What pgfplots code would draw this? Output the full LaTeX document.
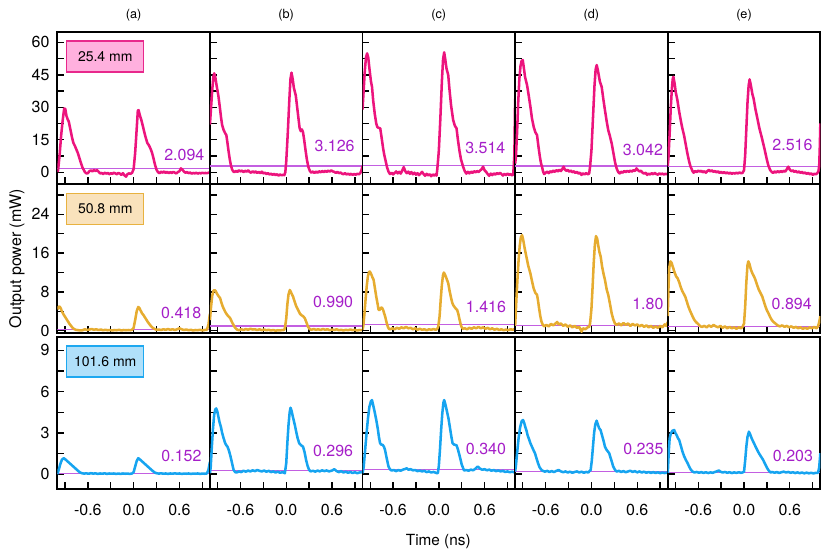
\documentclass[border=0pt]{standalone}
\usepackage{pgfplots}
\pgfplotsset{compat=1.18}
\usepackage{fontspec}
\setmainfont{TeX Gyre Heros}
\definecolor{cpink}{RGB}{236,20,125}
\definecolor{cgold}{RGB}{230,172,48}
\definecolor{cblue}{RGB}{22,164,240}
\definecolor{cpurp}{RGB}{165,30,200}
\definecolor{cline}{RGB}{195,95,225}
\definecolor{fpink}{RGB}{255,176,222}
\definecolor{bpink}{RGB}{232,40,140}
\definecolor{fgold}{RGB}{249,226,188}
\definecolor{bgold}{RGB}{232,178,64}
\definecolor{fblue}{RGB}{176,224,250}
\definecolor{bblue}{RGB}{30,168,240}
\pgfplotsset{
 panel/.style={
   scale only axis, width=114.45pt, xmin=-1, xmax=1, anchor=north west,
   axis line style={line width=1.3pt},
   tick align=inside, tick pos=left,
   xtick={-0.6,0,0.6}, minor xtick={-0.9,-0.3,0.3,0.9},
   major tick length=5.2pt, minor tick length=5.2pt,
   tick style={line width=1pt, black},
   xticklabels={}, yticklabels={},
   ticklabel style={font=\fontsize{12}{14}\selectfont},
   /pgf/number format/assume math mode=true,
   xticklabel style={yshift=-7.5pt},
   yticklabel style={xshift=-2.4pt},
 },
 r1/.style={panel, height=114.2pt, ymin=-5.4, ymax=64.9, ytick={0,15,30,45,60}, minor ytick={7.5,22.5,37.5,52.5}},
 r2/.style={panel, height=111.5pt, ymin=-0.4, ymax=30.25, ytick={0,8,16,24}, minor ytick={4,12,20,28}},
 r3/.style={panel, height=114.45pt, ymin=-1.1, ymax=10, ytick={0,3,6,9}, minor ytick={1.5,4.5,7.5}},
 curve/.style={line width=1.9pt, line join=round, no marks},
 hline/.style={cline, line width=0.8pt, no marks},
}
\tikzset{
 anno/.style={text=cpurp, inner sep=0pt, anchor=east, font=\fontsize{12}{14}\selectfont},
 lbl/.style n args={2}{draw=#1, fill=#2, line width=1.1pt, minimum width=57.75pt, minimum height=23.25pt, inner sep=0pt, anchor=north west, font=\fontsize{10.5}{12}\selectfont, xshift=6.5pt, yshift=-6.4pt},
}
\begin{document}
\begin{tikzpicture}
% ---------------- Row 1 ----------------
\begin{axis}[r1, at={(43pt,-23.8pt)}, yticklabels={0,15,30,45,60}]
\addplot[hline] coordinates {(-1,1.9) (1,1.9)};
\addplot[cpink, curve] coordinates {(-1.00,0.2) (-0.99,1) (-0.97,8) (-0.95,17) (-0.93,24) (-0.91,29.5) (-0.895,29.2) (-0.88,26) (-0.865,24.5) (-0.85,23.4) (-0.83,20) (-0.81,16.5) (-0.79,13.6) (-0.77,12.2) (-0.75,10.5) (-0.73,8.8) (-0.71,6.5) (-0.69,4.2) (-0.67,2.2) (-0.655,1.2) (-0.64,0.2) (-0.62,-0.5) (-0.60,-0.4) (-0.58,0.5) (-0.56,0.9) (-0.54,0.4) (-0.52,1.1) (-0.50,0.6) (-0.48,1.0) (-0.46,0.3) (-0.44,-0.5) (-0.42,-0.3) (-0.40,-0.8) (-0.38,-0.2) (-0.36,-0.6) (-0.34,-0.3) (-0.32,-0.9) (-0.30,-0.4) (-0.28,-0.7) (-0.26,-0.2) (-0.24,-0.5) (-0.22,-0.9) (-0.20,-0.3) (-0.18,-0.6) (-0.16,-1.2) (-0.14,-0.4) (-0.12,-1.4) (-0.10,-2.0) (-0.08,-0.8) (-0.06,-0.5) (-0.04,-0.7) (-0.02,-0.2) (0.00,1.5) (0.02,9) (0.04,20) (0.055,28.5) (0.065,28.7) (0.08,26.5) (0.10,24.3) (0.12,21.5) (0.14,18.5) (0.16,15.8) (0.18,13.5) (0.20,12.5) (0.22,11) (0.24,9.2) (0.26,6.5) (0.28,3.5) (0.30,1.2) (0.32,0.0) (0.34,-0.4) (0.36,0.3) (0.38,-0.2) (0.40,0.4) (0.42,-0.3) (0.44,0.2) (0.46,-0.4) (0.48,0.1) (0.50,-0.3) (0.52,0.2) (0.54,-0.2) (0.56,-0.5) (0.58,0.1) (0.60,0.5) (0.62,1.8) (0.64,1.2) (0.66,0.3) (0.68,-0.2) (0.70,0.1) (0.72,-0.4) (0.74,-0.1) (0.76,-0.6) (0.78,-0.3) (0.80,-0.5) (0.82,-0.2) (0.84,-0.6) (0.86,-0.3) (0.88,-0.5) (0.90,-0.2) (0.92,-0.4) (0.94,-0.3) (0.96,-0.4) (0.98,-0.2) (1.00,-0.1)};
\node[anno] at (axis cs:0.93,8.0) {2.094};
\node[lbl={bpink}{fpink}] at (rel axis cs:0,1) {25.4 mm};
\end{axis}
\begin{axis}[r1, at={(157.45pt,-23.8pt)}]
\addplot[hline] coordinates {(-1,2.9) (1,2.9)};
\addplot[cpink, curve] coordinates {(-1.00,22) (-0.985,30) (-0.97,38) (-0.955,44) (-0.944,45.7) (-0.93,44) (-0.91,39.5) (-0.89,35.5) (-0.87,30) (-0.855,25.5) (-0.84,21.8) (-0.82,19.5) (-0.80,18) (-0.785,17.2) (-0.77,13.5) (-0.755,9.5) (-0.74,6) (-0.725,3.2) (-0.71,1.4) (-0.695,0.4) (-0.68,0.1) (-0.66,0.6) (-0.64,0.2) (-0.62,0.9) (-0.60,0.4) (-0.58,0.8) (-0.56,0.1) (-0.54,0.7) (-0.52,0.3) (-0.50,0.9) (-0.48,0.2) (-0.46,-0.2) (-0.44,0.5) (-0.42,-0.1) (-0.40,0.4) (-0.38,-0.3) (-0.36,0.2) (-0.34,-0.4) (-0.32,0.3) (-0.30,-0.5) (-0.28,-0.2) (-0.26,-0.8) (-0.24,-0.4) (-0.22,-1.0) (-0.20,-0.6) (-0.18,-1.2) (-0.16,-0.7) (-0.14,-1.3) (-0.12,-0.9) (-0.10,-1.5) (-0.08,-1.0) (-0.06,-1.4) (-0.04,-1.1) (-0.025,-1.3) (-0.012,0) (0.00,5) (0.02,18) (0.04,33) (0.055,43) (0.069,46) (0.085,43) (0.10,39) (0.125,35.5) (0.15,28) (0.175,20.5) (0.19,19) (0.205,19.8) (0.22,18.5) (0.235,15) (0.25,11) (0.27,6) (0.29,2.5) (0.31,0.6) (0.33,-0.2) (0.35,0.4) (0.37,-0.3) (0.39,0.3) (0.41,-0.2) (0.43,0.5) (0.45,0.0) (0.47,0.6) (0.49,0.1) (0.51,0.7) (0.53,0.2) (0.55,0.8) (0.57,0.3) (0.59,0.9) (0.61,0.4) (0.63,0.2) (0.65,-0.3) (0.67,0.2) (0.69,-0.4) (0.71,-0.1) (0.73,-0.6) (0.75,-0.9) (0.77,-0.4) (0.79,-1.0) (0.81,-0.6) (0.83,-1.1) (0.85,-0.7) (0.87,-1.2) (0.89,-0.8) (0.91,-1.1) (0.93,-0.7) (0.95,-0.9) (0.97,-0.4) (0.985,0.8) (1.00,3)};
\node[anno] at (axis cs:0.90,12.0) {3.126};
\end{axis}
\begin{axis}[r1, at={(271.9pt,-23.8pt)}]
\addplot[hline] coordinates {(-1,3.05) (1,3.05)};
\addplot[cpink, curve] coordinates {(-1.00,29) (-0.985,38) (-0.97,47) (-0.955,53) (-0.94,54.9) (-0.925,53) (-0.91,48) (-0.89,42) (-0.876,39.5) (-0.86,33) (-0.84,27) (-0.82,22.5) (-0.805,20.8) (-0.785,20.5) (-0.768,20.3) (-0.75,16) (-0.73,11) (-0.715,8) (-0.70,5.7) (-0.68,2.5) (-0.66,0.3) (-0.64,-0.8) (-0.62,-0.2) (-0.60,-1.0) (-0.58,-0.3) (-0.56,0.4) (-0.54,-0.5) (-0.52,0.2) (-0.50,-0.6) (-0.48,0.8) (-0.46,2.4) (-0.44,0.5) (-0.42,-0.4) (-0.40,0.3) (-0.38,-0.7) (-0.36,0.1) (-0.34,-0.9) (-0.32,-0.2) (-0.30,-1.1) (-0.28,-0.4) (-0.26,-1.3) (-0.24,-0.6) (-0.22,0.2) (-0.20,-0.8) (-0.18,-1.6) (-0.16,-0.7) (-0.14,-1.4) (-0.12,-0.9) (-0.10,-1.8) (-0.08,-1.0) (-0.06,-1.5) (-0.04,-0.9) (-0.03,-1.5) (-0.02,1.5) (0.00,10) (0.02,25) (0.04,42) (0.055,52) (0.07,55.4) (0.085,52) (0.10,48) (0.123,44.9) (0.14,38) (0.16,31) (0.188,24.1) (0.21,21.5) (0.232,20.3) (0.25,15) (0.27,10) (0.29,6) (0.318,2.6) (0.34,0.5) (0.36,-0.6) (0.38,0.2) (0.40,-0.5) (0.42,0.3) (0.44,-0.3) (0.46,0.5) (0.48,0.0) (0.50,0.6) (0.52,0.1) (0.54,0.8) (0.56,1.4) (0.58,2.6) (0.60,0.9) (0.62,0.2) (0.64,-0.8) (0.66,-1.6) (0.68,-0.6) (0.70,-1.3) (0.72,-0.5) (0.74,-1.1) (0.76,-0.3) (0.78,-0.9) (0.80,-0.2) (0.82,-0.8) (0.84,-1.5) (0.86,-0.7) (0.88,-1.3) (0.90,-0.6) (0.92,-1.2) (0.94,-0.8) (0.96,-1.4) (0.975,-1.0) (0.99,8) (1.00,34)};
\node[anno] at (axis cs:0.875,11.1) {3.514};
\end{axis}
\begin{axis}[r1, at={(386.35pt,-23.8pt)}]
\addplot[hline] coordinates {(-1,2.9) (1,2.9)};
\addplot[cpink, curve] coordinates {(-1.00,4) (-0.99,7) (-0.975,18) (-0.96,32) (-0.945,43) (-0.93,49) (-0.915,51.5) (-0.90,51.8) (-0.885,48) (-0.87,44) (-0.844,40.3) (-0.82,35) (-0.80,30.3) (-0.78,25) (-0.757,21) (-0.735,18.5) (-0.713,17.2) (-0.695,12) (-0.675,7) (-0.66,4) (-0.648,2.6) (-0.635,0.5) (-0.62,-0.8) (-0.60,-0.2) (-0.58,0.3) (-0.56,-0.4) (-0.54,0.5) (-0.52,0.0) (-0.50,0.8) (-0.48,0.2) (-0.46,1.0) (-0.44,0.4) (-0.42,1.2) (-0.40,0.6) (-0.38,1.6) (-0.365,2.6) (-0.35,1.4) (-0.33,0.7) (-0.31,1.1) (-0.29,0.3) (-0.27,0.8) (-0.25,0.0) (-0.23,0.5) (-0.21,-0.3) (-0.19,0.2) (-0.17,-0.6) (-0.15,-0.2) (-0.13,-1.2) (-0.11,-0.5) (-0.09,-1.0) (-0.07,-0.3) (-0.05,-0.9) (-0.03,-0.6) (-0.018,2.6) (0.00,10) (0.02,25) (0.04,40) (0.055,47.5) (0.069,49.5) (0.085,47) (0.11,42) (0.134,39.5) (0.155,34) (0.177,28.7) (0.20,23.5) (0.22,19.5) (0.24,17) (0.265,13.4) (0.29,8.5) (0.31,4.5) (0.33,1.8) (0.35,0.2) (0.37,-0.5) (0.39,0.3) (0.41,-0.2) (0.43,0.6) (0.45,0.1) (0.47,0.7) (0.49,0.2) (0.51,0.8) (0.53,0.3) (0.55,1.0) (0.57,0.6) (0.59,1.8) (0.61,1.0) (0.63,0.4) (0.65,0.7) (0.67,-0.2) (0.69,-0.6) (0.71,-0.2) (0.73,-1.2) (0.75,-0.6) (0.77,-1.0) (0.79,-0.4) (0.81,-0.9) (0.83,-0.3) (0.85,-0.8) (0.87,-1.1) (0.89,-0.5) (0.91,-0.9) (0.93,-0.6) (0.95,-1.0) (0.97,-0.7) (0.985,-0.9) (1.00,-0.6)};
\node[anno] at (axis cs:0.94,10.5) {3.042};
\end{axis}
\begin{axis}[r1, at={(500.8pt,-23.8pt)}]
\addplot[hline] coordinates {(-1,2.6) (1,2.6)};
\addplot[cpink, curve] coordinates {(-1.00,3) (-0.99,7) (-0.975,18) (-0.96,30) (-0.945,39) (-0.935,43) (-0.926,44.1) (-0.91,41) (-0.895,37) (-0.874,33.4) (-0.85,28) (-0.83,24.1) (-0.81,20.5) (-0.787,17.2) (-0.765,13) (-0.743,8.8) (-0.72,5) (-0.70,2.5) (-0.69,1.8) (-0.675,0.5) (-0.66,-0.2) (-0.64,0.6) (-0.62,0.1) (-0.60,0.8) (-0.58,0.3) (-0.56,0.7) (-0.54,0.0) (-0.52,0.5) (-0.50,-0.2) (-0.48,0.6) (-0.46,1.1) (-0.44,0.4) (-0.42,0.9) (-0.40,0.2) (-0.38,0.6) (-0.36,-0.1) (-0.34,0.5) (-0.32,-0.3) (-0.30,0.2) (-0.28,-0.4) (-0.26,0.1) (-0.24,-0.5) (-0.22,-0.1) (-0.20,-0.6) (-0.18,-0.2) (-0.16,-0.7) (-0.14,-0.3) (-0.12,-0.6) (-0.10,-0.2) (-0.08,-0.5) (-0.06,-0.1) (-0.04,-0.4) (-0.02,-0.3) (0.00,1) (0.015,8) (0.03,20) (0.045,32) (0.06,40) (0.073,42.9) (0.09,40) (0.11,36) (0.125,34.1) (0.15,29) (0.17,25.7) (0.20,20.5) (0.235,15.7) (0.27,10.5) (0.30,5.7) (0.32,3) (0.343,1) (0.36,0.3) (0.38,-0.3) (0.40,0.4) (0.42,-0.1) (0.44,0.5) (0.46,0.0) (0.48,0.6) (0.50,0.1) (0.52,0.7) (0.54,0.3) (0.56,1.4) (0.58,2.6) (0.60,1.2) (0.62,0.5) (0.64,0.9) (0.66,0.2) (0.68,0.6) (0.70,-0.1) (0.72,0.4) (0.74,-0.3) (0.76,0.2) (0.78,-0.5) (0.80,-0.1) (0.82,-0.7) (0.84,-0.3) (0.86,-0.9) (0.88,-0.5) (0.90,-1.2) (0.92,-0.7) (0.94,-0.9) (0.96,-0.4) (0.975,0.5) (0.985,3) (0.993,12) (1.00,22.6)};
\node[anno] at (axis cs:0.90,12.5) {2.516};
\end{axis}
% ---------------- Row 2 ----------------
\begin{axis}[r2, at={(43pt,-138pt)}, yticklabels={0,8,16,24}]
\addplot[hline] coordinates {(-1,0.3) (1,0.3)};
\addplot[cgold, curve] coordinates {(-1.00,4.4) (-0.985,4.9) (-0.97,5.0) (-0.955,4.6) (-0.94,4.0) (-0.92,3.4) (-0.90,2.9) (-0.88,2.4) (-0.86,1.9) (-0.84,1.4) (-0.82,1.0) (-0.80,0.6) (-0.78,0.35) (-0.76,0.2) (-0.74,0.15) (-0.72,0.1) (-0.70,0.05) (-0.67,0.1) (-0.64,0.3) (-0.61,0.15) (-0.58,0.25) (-0.55,0.35) (-0.52,0.2) (-0.49,0.3) (-0.46,0.15) (-0.43,0.25) (-0.40,0.1) (-0.37,0.2) (-0.34,0.1) (-0.31,0.15) (-0.28,0.05) (-0.25,0.15) (-0.22,0.1) (-0.19,0.2) (-0.16,0.05) (-0.13,0.15) (-0.10,0.1) (-0.07,0.15) (-0.04,0.1) (-0.02,0.2) (0.00,0.6) (0.02,2.2) (0.04,4.0) (0.06,4.9) (0.075,4.7) (0.09,4.2) (0.11,3.6) (0.13,3.2) (0.15,2.7) (0.17,2.2) (0.19,1.7) (0.21,1.3) (0.23,0.9) (0.25,0.6) (0.27,0.4) (0.30,0.2) (0.33,0.25) (0.36,0.15) (0.39,0.3) (0.42,0.2) (0.45,0.35) (0.48,0.2) (0.51,0.3) (0.54,0.15) (0.57,0.3) (0.60,0.5) (0.63,0.3) (0.66,0.15) (0.69,0.25) (0.72,0.1) (0.75,0.2) (0.78,0.05) (0.81,0.15) (0.84,0.1) (0.87,0.2) (0.90,0.05) (0.93,0.15) (0.96,0.2) (0.98,1.2) (1.00,3.5)};
\node[anno] at (axis cs:0.89,3.75) {0.418};
\node[lbl={bgold}{fgold}] at (rel axis cs:0,1) {50.8 mm};
\end{axis}
\begin{axis}[r2, at={(157.45pt,-138pt)}]
\addplot[hline] coordinates {(-1,0.97) (1,0.97)};
\addplot[cgold, curve] coordinates {(-1.00,2.2) (-0.985,5) (-0.97,7.2) (-0.955,8.2) (-0.94,8.4) (-0.925,8.2) (-0.91,7.7) (-0.89,7.2) (-0.866,6.7) (-0.85,5.8) (-0.83,4.9) (-0.80,3.9) (-0.78,3.4) (-0.76,3.0) (-0.735,2.6) (-0.715,1.9) (-0.692,1.2) (-0.67,0.6) (-0.645,0.25) (-0.62,0.1) (-0.59,0.3) (-0.56,0.15) (-0.53,0.35) (-0.50,0.2) (-0.47,0.4) (-0.44,0.25) (-0.41,0.3) (-0.38,0.15) (-0.35,0.3) (-0.32,0.1) (-0.29,0.25) (-0.26,0.1) (-0.23,0.2) (-0.20,0.05) (-0.17,0.15) (-0.14,0.0) (-0.11,0.1) (-0.08,0.05) (-0.05,0.15) (-0.03,0.1) (-0.018,0.5) (0.00,2.5) (0.015,5.5) (0.03,7.5) (0.047,8.4) (0.06,8.0) (0.075,7.5) (0.09,7.0) (0.11,6.0) (0.13,5.1) (0.155,4.3) (0.18,3.5) (0.20,3.2) (0.22,3.0) (0.243,2.6) (0.265,1.7) (0.286,0.8) (0.31,0.3) (0.33,0.2) (0.36,0.35) (0.39,0.2) (0.42,0.3) (0.45,0.15) (0.48,0.35) (0.51,0.2) (0.54,0.3) (0.57,0.1) (0.60,0.25) (0.63,0.15) (0.66,0.3) (0.69,0.1) (0.72,0.2) (0.75,0.05) (0.78,0.2) (0.81,0.1) (0.84,0.25) (0.87,0.1) (0.90,0.2) (0.93,0.05) (0.96,0.15) (1.00,0.1)};
\node[anno] at (axis cs:0.88,5.9) {0.990};
\end{axis}
\begin{axis}[r2, at={(271.9pt,-138pt)}]
\addplot[hline] coordinates {(-1,1.3) (1,1.3)};
\addplot[cgold, curve] coordinates {(-1.00,0.2) (-0.99,1.0) (-0.975,3.5) (-0.96,6.5) (-0.945,9.2) (-0.93,11.2) (-0.915,12.1) (-0.905,12.2) (-0.89,11.8) (-0.87,11.0) (-0.855,10.5) (-0.84,9.0) (-0.82,7.0) (-0.80,5.3) (-0.79,4.3) (-0.775,4.3) (-0.76,4.7) (-0.746,4.8) (-0.73,4.3) (-0.715,3.5) (-0.703,2.9) (-0.685,1.7) (-0.67,0.9) (-0.655,0.4) (-0.64,0.3) (-0.61,0.5) (-0.58,0.3) (-0.55,0.6) (-0.52,0.4) (-0.49,0.7) (-0.46,0.5) (-0.43,0.8) (-0.40,0.5) (-0.37,0.6) (-0.34,0.3) (-0.31,0.5) (-0.28,0.2) (-0.25,0.4) (-0.22,0.2) (-0.19,0.3) (-0.16,0.1) (-0.13,0.3) (-0.10,0.2) (-0.07,0.35) (-0.04,0.2) (-0.02,0.4) (-0.008,0.8) (0.01,3) (0.025,6.5) (0.04,9.5) (0.055,11.5) (0.066,12.0) (0.08,11.6) (0.10,10.8) (0.123,9.8) (0.14,8.3) (0.16,6.8) (0.175,5.8) (0.188,5.3) (0.21,4.8) (0.225,4.5) (0.24,4.3) (0.255,3.5) (0.27,2.4) (0.285,1.4) (0.297,0.8) (0.315,0.4) (0.34,0.5) (0.37,0.3) (0.40,0.6) (0.43,0.4) (0.46,0.7) (0.49,0.5) (0.52,0.8) (0.55,0.5) (0.58,0.7) (0.61,0.4) (0.64,0.6) (0.67,0.3) (0.70,0.5) (0.73,0.2) (0.76,0.4) (0.79,0.15) (0.82,0.3) (0.85,0.1) (0.88,0.25) (0.91,0.1) (0.94,0.3) (0.97,0.2) (1.00,0.4)};
\node[anno] at (axis cs:0.884,4.95) {1.416};
\end{axis}
\begin{axis}[r2, at={(386.35pt,-138pt)}]
\addplot[hline] coordinates {(-1,1.1) (1,1.1)};
\addplot[cgold, curve] coordinates {(-1.00,1.0) (-0.995,2.6) (-0.985,6) (-0.97,10.5) (-0.955,14.5) (-0.94,17.5) (-0.925,19.3) (-0.909,19.7) (-0.895,18.8) (-0.875,17) (-0.853,15.3) (-0.83,13.5) (-0.80,11.8) (-0.78,10.3) (-0.757,8.7) (-0.735,7.8) (-0.713,7.4) (-0.70,6.2) (-0.685,4.5) (-0.67,3.0) (-0.655,1.9) (-0.64,1.3) (-0.62,0.9) (-0.59,1.2) (-0.56,0.9) (-0.53,1.4) (-0.50,1.1) (-0.47,1.5) (-0.45,1.8) (-0.43,1.3) (-0.40,1.5) (-0.37,1.0) (-0.34,1.3) (-0.31,0.8) (-0.28,1.1) (-0.25,0.7) (-0.22,1.0) (-0.19,0.6) (-0.16,0.8) (-0.13,-0.2) (-0.11,0.5) (-0.08,0.3) (-0.05,0.7) (-0.03,0.8) (-0.018,1.5) (0.00,4.5) (0.015,9) (0.03,14) (0.045,17.8) (0.06,19.5) (0.075,19.0) (0.09,17.5) (0.105,16.2) (0.121,15.3) (0.14,13.2) (0.16,11.6) (0.177,10.5) (0.20,8.5) (0.22,7.4) (0.24,5.8) (0.265,3.6) (0.285,2.4) (0.308,1.5) (0.33,1.2) (0.36,1.5) (0.39,1.1) (0.42,1.6) (0.45,1.2) (0.48,1.5) (0.51,1.0) (0.54,1.4) (0.57,1.1) (0.60,1.3) (0.63,0.9) (0.66,1.2) (0.69,0.8) (0.72,1.1) (0.75,0.7) (0.78,1.0) (0.81,0.6) (0.84,0.9) (0.87,0.6) (0.90,1.0) (0.93,0.7) (0.96,1.3) (0.98,1.0) (1.00,1.8)};
\node[anno] at (axis cs:0.947,5.5) {1.80};
\end{axis}
\begin{axis}[r2, at={(500.8pt,-138pt)}]
\addplot[hline] coordinates {(-1,0.85) (1,0.85)};
\addplot[cgold, curve] coordinates {(-1.00,3) (-0.99,9) (-0.98,13) (-0.965,14.3) (-0.95,14.0) (-0.93,13.0) (-0.91,12.0) (-0.89,11.2) (-0.87,10.8) (-0.85,10.0) (-0.83,9.0) (-0.81,8.2) (-0.79,7.6) (-0.77,7.0) (-0.75,6.0) (-0.73,5.0) (-0.71,4.2) (-0.69,3.5) (-0.67,2.8) (-0.65,2.2) (-0.63,1.8) (-0.61,1.5) (-0.59,1.2) (-0.57,0.9) (-0.55,0.8) (-0.52,1.0) (-0.49,0.7) (-0.46,1.1) (-0.43,0.8) (-0.40,1.2) (-0.37,0.9) (-0.34,0.7) (-0.31,1.0) (-0.28,0.6) (-0.25,0.9) (-0.22,0.5) (-0.19,0.8) (-0.16,0.5) (-0.13,0.7) (-0.10,0.4) (-0.07,0.7) (-0.04,0.5) (-0.02,0.8) (0.00,1.5) (0.015,5) (0.03,10) (0.045,13.5) (0.056,14.3) (0.07,13.8) (0.09,12.6) (0.11,11.8) (0.13,11.2) (0.147,10.6) (0.17,9.5) (0.19,8.6) (0.215,7.8) (0.24,7.0) (0.26,6.0) (0.28,5.0) (0.30,4.2) (0.32,3.6) (0.34,2.9) (0.36,2.3) (0.38,1.9) (0.41,1.5) (0.44,1.1) (0.47,0.9) (0.50,1.1) (0.53,0.8) (0.56,1.0) (0.59,0.7) (0.62,0.9) (0.65,0.6) (0.68,0.8) (0.71,0.5) (0.74,0.7) (0.77,0.4) (0.80,0.6) (0.83,0.4) (0.86,0.7) (0.89,0.5) (0.92,0.8) (0.95,0.5) (0.97,0.9) (0.985,1.8) (1.00,3.0)};
\node[anno] at (axis cs:0.89,5.5) {0.894};
\end{axis}
% ---------------- Row 3 ----------------
\begin{axis}[r3, at={(43pt,-252.5pt)}, yticklabels={0,3,6,9}, xticklabels={-0.6,0.0,0.6}]
\addplot[hline] coordinates {(-1,0.07) (1,0.07)};
\addplot[cblue, curve] coordinates {(-1.00,0.0) (-0.98,0.35) (-0.96,0.75) (-0.94,1.05) (-0.917,1.16) (-0.90,1.1) (-0.88,1.0) (-0.86,0.9) (-0.84,0.8) (-0.82,0.7) (-0.80,0.6) (-0.78,0.5) (-0.76,0.4) (-0.74,0.3) (-0.72,0.2) (-0.70,0.12) (-0.68,0.07) (-0.65,0.04) (-0.62,0.06) (-0.59,0.03) (-0.56,0.07) (-0.53,0.04) (-0.50,0.06) (-0.47,0.02) (-0.44,0.05) (-0.41,0.03) (-0.38,0.06) (-0.35,0.02) (-0.32,0.05) (-0.29,0.03) (-0.26,0.05) (-0.23,0.02) (-0.20,0.04) (-0.17,0.02) (-0.14,0.05) (-0.11,0.03) (-0.08,0.04) (-0.05,0.02) (-0.02,0.05) (0.00,0.15) (0.02,0.55) (0.04,0.95) (0.06,1.16) (0.08,1.08) (0.10,0.98) (0.12,0.88) (0.14,0.78) (0.16,0.68) (0.18,0.58) (0.20,0.48) (0.22,0.38) (0.24,0.28) (0.26,0.19) (0.28,0.11) (0.30,0.07) (0.33,0.04) (0.36,0.06) (0.39,0.03) (0.42,0.05) (0.45,0.02) (0.48,0.05) (0.51,0.03) (0.54,0.06) (0.57,0.03) (0.60,0.05) (0.63,0.02) (0.66,0.04) (0.69,0.03) (0.72,0.05) (0.75,0.02) (0.78,0.04) (0.81,0.03) (0.84,0.05) (0.87,0.02) (0.90,0.04) (0.93,0.03) (0.96,0.05) (0.98,0.3) (1.00,0.9)};
\node[anno] at (axis cs:0.893,1.31) {0.152};
\node[lbl={bblue}{fblue}] at (rel axis cs:0,1) {101.6 mm};
\end{axis}
\begin{axis}[r3, at={(157.45pt,-252.5pt)}, xticklabels={-0.6,0.0,0.6}]
\addplot[hline] coordinates {(-1,0.24) (1,0.24)};
\addplot[cblue, curve] coordinates {(-1.00,0.07) (-0.99,0.5) (-0.975,2.0) (-0.96,3.3) (-0.945,4.3) (-0.93,4.7) (-0.918,4.78) (-0.905,4.6) (-0.89,4.2) (-0.875,3.8) (-0.857,3.45) (-0.84,3.0) (-0.82,2.6) (-0.80,2.25) (-0.785,2.1) (-0.77,2.0) (-0.75,1.7) (-0.73,1.28) (-0.71,0.8) (-0.69,0.31) (-0.67,0.15) (-0.65,0.12) (-0.62,0.2) (-0.59,0.15) (-0.56,0.25) (-0.53,0.18) (-0.50,0.26) (-0.47,0.2) (-0.44,0.28) (-0.41,0.22) (-0.38,0.3) (-0.35,0.24) (-0.32,0.2) (-0.29,0.26) (-0.26,0.18) (-0.23,0.24) (-0.20,0.15) (-0.17,0.2) (-0.14,0.12) (-0.11,0.18) (-0.08,0.1) (-0.05,0.15) (-0.03,0.1) (-0.018,0.07) (0.00,0.8) (0.015,2.3) (0.03,3.6) (0.045,4.5) (0.056,4.83) (0.07,4.6) (0.09,4.1) (0.113,3.57) (0.13,3.1) (0.15,2.6) (0.17,2.25) (0.195,2.1) (0.22,2.0) (0.24,1.6) (0.26,1.04) (0.28,0.6) (0.30,0.31) (0.32,0.2) (0.35,0.25) (0.38,0.18) (0.41,0.26) (0.44,0.2) (0.47,0.28) (0.50,0.22) (0.53,0.27) (0.56,0.2) (0.60,0.26) (0.63,0.36) (0.66,0.22) (0.69,0.15) (0.72,0.22) (0.75,0.12) (0.78,0.18) (0.81,0.1) (0.84,0.16) (0.87,0.08) (0.90,0.14) (0.93,0.07) (0.96,0.12) (1.00,0.15)};
\node[anno] at (axis cs:0.88,1.70) {0.296};
\end{axis}
\begin{axis}[r3, at={(271.9pt,-252.5pt)}, xticklabels={-0.6,0.0,0.6}]
\addplot[hline] coordinates {(-1,0.31) (1,0.31)};
\addplot[cblue, curve] coordinates {(-1.00,0.07) (-0.985,0.5) (-0.97,1.5) (-0.95,2.8) (-0.93,4.0) (-0.91,4.9) (-0.89,5.3) (-0.876,5.39) (-0.86,5.0) (-0.84,4.5) (-0.82,3.94) (-0.80,3.3) (-0.785,2.7) (-0.77,2.25) (-0.755,2.15) (-0.736,2.13) (-0.72,2.0) (-0.705,1.76) (-0.685,1.2) (-0.66,0.56) (-0.64,0.35) (-0.62,0.27) (-0.59,0.3) (-0.56,0.22) (-0.53,0.3) (-0.50,0.25) (-0.47,0.33) (-0.44,0.38) (-0.42,0.43) (-0.40,0.32) (-0.37,0.36) (-0.34,0.28) (-0.31,0.3) (-0.28,0.22) (-0.25,0.26) (-0.22,0.2) (-0.19,0.24) (-0.16,0.15) (-0.13,0.2) (-0.10,0.12) (-0.07,0.16) (-0.04,0.1) (-0.03,0.08) (-0.013,0.07) (0.00,0.6) (0.015,1.8) (0.03,3.2) (0.045,4.4) (0.06,5.2) (0.07,5.39) (0.085,5.1) (0.105,4.6) (0.126,4.06) (0.145,3.4) (0.165,2.7) (0.18,2.25) (0.20,2.15) (0.215,2.13) (0.232,2.1) (0.25,1.8) (0.275,1.28) (0.30,0.7) (0.33,0.27) (0.36,0.3) (0.39,0.25) (0.42,0.33) (0.45,0.28) (0.48,0.4) (0.51,0.56) (0.54,0.4) (0.57,0.32) (0.60,0.36) (0.63,0.28) (0.66,0.33) (0.69,0.25) (0.72,0.3) (0.75,0.22) (0.78,0.27) (0.81,0.2) (0.84,0.24) (0.87,0.16) (0.90,0.2) (0.93,0.14) (0.96,0.18) (1.00,0.12)};
\node[anno] at (axis cs:0.884,1.80) {0.340};
\end{axis}
\begin{axis}[r3, at={(386.35pt,-252.5pt)}, xticklabels={-0.6,0.0,0.6}]
\addplot[hline] coordinates {(-1,0.19) (1,0.19)};
\addplot[cblue, curve] coordinates {(-1.00,0.19) (-0.99,0.6) (-0.975,1.5) (-0.955,2.6) (-0.935,3.4) (-0.915,3.85) (-0.896,3.94) (-0.88,3.7) (-0.865,3.4) (-0.853,3.2) (-0.835,2.8) (-0.815,2.5) (-0.80,2.25) (-0.78,2.0) (-0.76,1.75) (-0.74,1.52) (-0.72,1.15) (-0.70,0.8) (-0.68,0.5) (-0.655,0.31) (-0.64,0.25) (-0.61,0.18) (-0.58,0.24) (-0.55,0.16) (-0.52,0.22) (-0.49,0.15) (-0.46,0.24) (-0.43,0.3) (-0.40,0.2) (-0.37,0.14) (-0.34,0.2) (-0.31,0.12) (-0.28,0.18) (-0.25,0.1) (-0.22,0.16) (-0.19,0.2) (-0.16,0.12) (-0.13,0.18) (-0.10,0.1) (-0.07,0.16) (-0.04,0.12) (-0.03,0.2) (-0.01,0.3) (0.005,1.0) (0.02,2.0) (0.035,3.0) (0.05,3.6) (0.068,3.89) (0.085,3.6) (0.10,3.35) (0.12,3.2) (0.14,2.8) (0.16,2.4) (0.177,2.0) (0.195,1.8) (0.215,1.65) (0.233,1.52) (0.25,1.2) (0.27,0.85) (0.285,0.56) (0.31,0.3) (0.33,0.19) (0.36,0.24) (0.39,0.16) (0.42,0.22) (0.45,0.14) (0.48,0.2) (0.51,0.25) (0.54,0.16) (0.57,0.22) (0.60,0.13) (0.63,0.2) (0.66,0.12) (0.69,0.18) (0.72,0.1) (0.75,0.16) (0.78,0.09) (0.81,0.15) (0.84,0.08) (0.87,0.14) (0.90,0.07) (0.93,0.12) (0.96,0.08) (1.00,0.12)};
\node[anno] at (axis cs:0.947,1.80) {0.235};
\end{axis}
\begin{axis}[r3, at={(500.8pt,-252.5pt)}, xticklabels={-0.6,0.0,0.6}]
\addplot[hline] coordinates {(-1,0.14) (1,0.14)};
\addplot[cblue, curve] coordinates {(-1.00,0.1) (-0.995,0.6) (-0.985,1.8) (-0.975,2.6) (-0.96,2.95) (-0.94,3.15) (-0.916,3.21) (-0.90,3.0) (-0.88,2.8) (-0.865,2.6) (-0.85,2.49) (-0.83,2.1) (-0.807,1.64) (-0.785,1.3) (-0.763,1.04) (-0.74,0.8) (-0.72,0.56) (-0.70,0.35) (-0.676,0.19) (-0.65,0.12) (-0.62,0.16) (-0.59,0.1) (-0.56,0.15) (-0.53,0.09) (-0.50,0.14) (-0.47,0.08) (-0.44,0.13) (-0.41,0.1) (-0.38,0.16) (-0.35,0.22) (-0.33,0.27) (-0.31,0.18) (-0.28,0.12) (-0.25,0.16) (-0.22,0.1) (-0.19,0.14) (-0.16,0.08) (-0.13,0.13) (-0.10,0.09) (-0.07,0.14) (-0.04,0.1) (-0.02,0.12) (0.00,0.19) (0.015,1.0) (0.03,2.0) (0.045,2.7) (0.064,3.09) (0.08,2.9) (0.10,2.6) (0.13,2.25) (0.16,1.9) (0.195,1.52) (0.22,1.3) (0.25,1.04) (0.275,0.75) (0.304,0.43) (0.325,0.25) (0.347,0.12) (0.37,0.16) (0.40,0.1) (0.43,0.15) (0.46,0.09) (0.49,0.14) (0.52,0.18) (0.55,0.12) (0.58,0.16) (0.61,0.1) (0.64,0.14) (0.67,0.08) (0.70,0.13) (0.73,0.07) (0.76,0.12) (0.79,0.06) (0.82,0.11) (0.85,0.06) (0.88,0.1) (0.91,0.05) (0.94,0.1) (0.97,0.1) (0.985,0.5) (1.00,1.52)};
\node[anno] at (axis cs:0.907,1.34) {0.203};
\end{axis}
% ---------------- labels ----------------
\begin{scope}[every node/.style={font=\fontsize{9.5}{11}\selectfont}]
\node at (100.2pt,-11.25pt) {(a)};
\node at (214.65pt,-11.25pt) {(b)};
\node at (329.1pt,-11.25pt) {(c)};
\node at (443.55pt,-11.25pt) {(d)};
\node at (558pt,-11.25pt) {(e)};
\end{scope}
\node[font=\fontsize{11.5}{13}\selectfont] at (328.7pt,-406pt) {Time (ns)};
\node[rotate=90, font=\fontsize{12}{14}\selectfont] at (12.75pt,-194pt) {Output power (mW)};
\pgfresetboundingbox
\path (0,0) rectangle (622.5pt,-417pt);
\end{tikzpicture}
\end{document}
